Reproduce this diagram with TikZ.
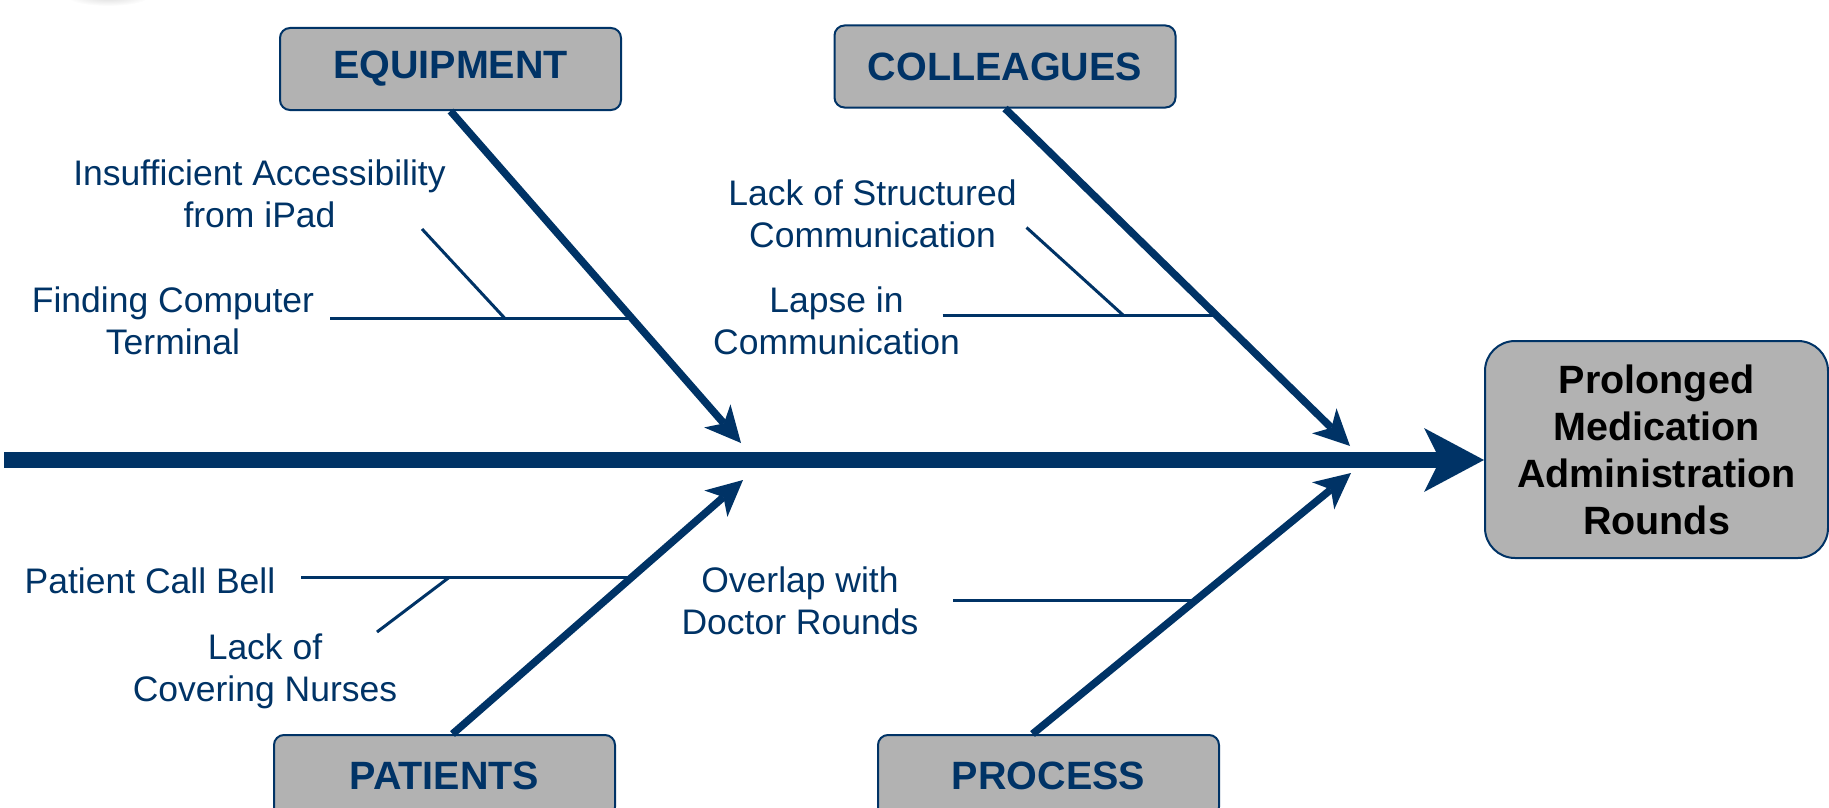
\documentclass[tikz,border=0pt]{standalone}
\usepackage{fontspec}
\setmainfont{Liberation Sans}
\usepackage{xcolor}
\usepackage{tikz}
\usetikzlibrary{arrows.meta}

\definecolor{navy}{RGB}{0,51,102}
\definecolor{boxgray}{RGB}{178,178,178}

\tikzset{
  catbox/.style={draw=navy, line width=2pt, fill=boxgray, rounded corners=10pt,
    minimum width=341pt, minimum height=82pt, text=navy,
    font=\fontsize{39.5}{47}\selectfont\bfseries},
  cause/.style={align=center, text=navy, inner sep=0pt,
    font=\fontsize{35.5}{42}\selectfont},
  spine/.style={draw=navy, line width=16pt,
    -{Stealth[length=60pt, width=64pt, inset=16pt, line width=0pt]}},
  bone/.style={draw=navy, line width=7.5pt,
    -{Stealth[length=36pt, width=35pt, inset=10pt, line width=0pt]}},
  twig/.style={draw=navy, line width=3pt}
}

\begin{document}
\begin{tikzpicture}[x=1pt, y=-1pt]
\useasboundingbox (0,0) rectangle (1829,808);

% soft shadow along the top edge
\shade[inner color=gray!30, outer color=white] (108,-4) ellipse (42 and 10);

% Draw the cause boxes
\foreach \nm/\px/\py/\txt in {eq/450.5/69/EQUIPMENT, col/1005/66.5/COLLEAGUES,
                              pat/444.5/776/PATIENTS, proc/1048.5/776/PROCESS}
{
  \node[catbox] (\nm) at (\px,\py) {\txt};
}

% Draw the effect box
\node[catbox, minimum width=343pt, minimum height=217pt, rounded corners=30pt,
      text=black, align=center] (res) at (1656.5,449.5)
      {Prolonged\\Medication\\Administration\\Rounds};

% Draw the spine
\coordinate (tail) at (4,460);
\draw[spine] (tail) -- (tail -| res.west);

% Draw the bones
\coordinate (eqtip) at (741,443);
\coordinate (coltip) at (1350,446);
\coordinate (pattip) at (743,480);
\coordinate (proctip) at (1351,473);
\draw[bone] (eq.south) -- (eqtip);
\draw[bone] (col.south) -- (coltip);
\draw[bone] ([xshift=8pt]pat.north) -- (pattip);
\draw[bone] ([xshift=-16pt]proc.north) -- (proctip);

% Draw the causes
\node[cause] (ins) at (259.5,194) {Insufficient Accessibility\\from iPad};
\node[cause] (fct) at (173,321) {Finding Computer\\Terminal};
\node[cause] (lsc) at (872.5,213.5) {Lack of Structured\\Communication};
\node[cause] (lic) at (836.5,321) {Lapse in\\Communication};
\node[cause] (pcb) at (150,581) {Patient Call Bell};
\node[cause] (lcn) at (265,671) {Lack of\\Covering Nurses};
\node[cause] (odr) at (800,601) {Overlap with\\Doctor Rounds};

% Draw the twigs
\coordinate (eqH) at (330,318.5);   \coordinate (eqJ) at (632,318.5);
\coordinate (eqD) at (422,229);     \coordinate (eqK) at (505,318.5);
\coordinate (colH) at (942.5,315);  \coordinate (colJ) at (1217,315);
\coordinate (colD) at (1026.5,227.5); \coordinate (colK) at (1123,315);
\coordinate (patH) at (301,577.5);  \coordinate (patJ) at (632,577.5);
\coordinate (patD) at (377,632);    \coordinate (patK) at (449,577.5);
\coordinate (procH) at (953,600.7); \coordinate (procJ) at (1195.5,600.7);

\draw[twig] (eqH) -- (eqJ);
\draw[twig] (eqD) -- (eqK);
\draw[twig] (colH) -- (colJ);
\draw[twig] (colD) -- (colK);
\draw[twig] (patH) -- (patJ);
\draw[twig] (patD) -- (patK);
\draw[twig] (procH) -- (procJ);

\end{tikzpicture}
\end{document}
